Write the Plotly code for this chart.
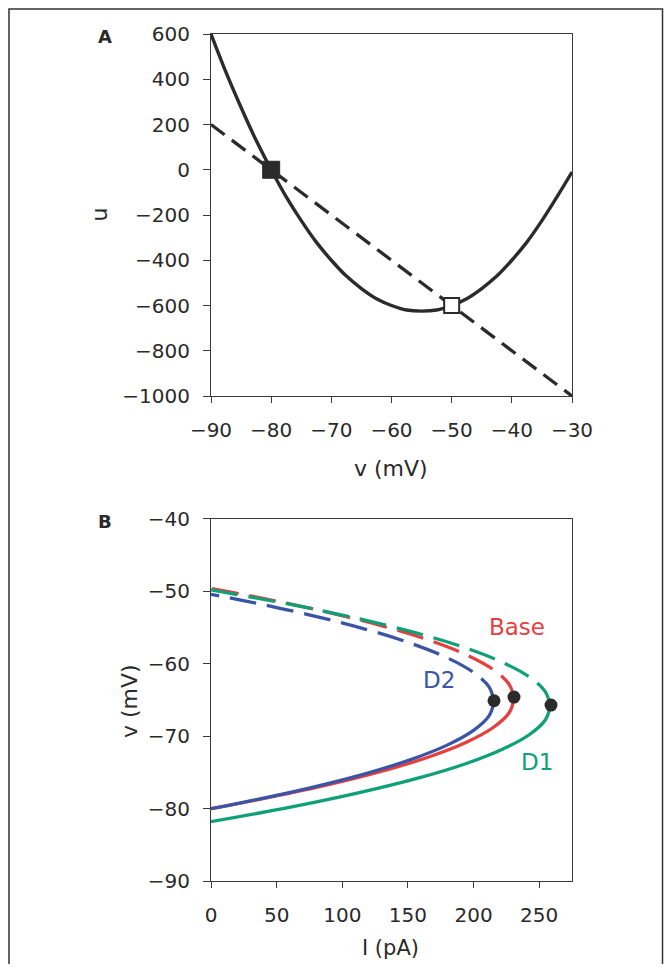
import plotly.graph_objects as go

# ---------------- Panel A data ----------------
v_null = [-90, -87.5, -85, -82.5, -80, -77.5, -75, -72.5, -70, -67.5, -65, -62.5, -60,
          -57.5, -55, -52.5, -50, -47.5, -45, -42.5, -40, -37.5, -35, -32.5, -30]
u_null = [600, 430, 275, 130, 0, -120, -225, -320, -400, -470, -525, -570, -600,
          -620, -625, -620, -600, -570, -525, -470, -400, -320, -225, -120, -10]
v_lin = [-90, -30]
u_lin = [200, -1000]
stable_pt = [-80, 0]
unstable_pt = [-50, -600]

# ---------------- Panel B data ----------------
base_v_stable = [-80.0, -78.8, -76.8, -74.8, -72.8, -70.8, -68.8, -66.8, -64.8]
base_I_stable = [0, 35, 87, 131, 167, 195, 215, 227, 231]
base_v_unst = [-64.8, -62.8, -60.8, -58.8, -56.8, -54.8, -52.8, -50.8, -49.6]
base_I_unst = [231, 227, 215, 195, 167, 131, 87, 35, 0]

d1_v_stable = [-81.8, -79.8, -77.8, -75.8, -73.8, -71.8, -69.8, -67.8, -65.8]
d1_I_stable = [0, 60.6, 113, 157.6, 194, 222, 242.4, 254.5, 258.6]
d1_v_unst = [-65.8, -63.8, -61.8, -59.8, -57.8, -55.8, -53.8, -51.8, -49.8]
d1_I_unst = [258.6, 254.5, 242.4, 222, 194, 157.6, 113, 60.6, 0]

d2_v_stable = [-80.0, -79.2, -77.2, -75.2, -73.2, -71.2, -69.2, -67.2, -65.2]
d2_I_stable = [0, 22.7, 73.9, 117.3, 152.7, 180.3, 200, 211.8, 215.7]
d2_v_unst = [-65.2, -63.2, -61.2, -59.2, -57.2, -55.2, -53.2, -51.2, -50.4]
d2_I_unst = [215.7, 211.8, 200, 180.3, 152.7, 117.3, 73.9, 22.7, 0]

sn_I = [215.6, 230.8, 259]
sn_v = [-65.1, -64.6, -65.7]

labels = ["Base", "D1", "D2"]
label_I = [232.9, 248.1, 173.7]
label_v = [-54.9, -73.5, -62.3]

RED = "#e5403f"
GREEN = "#0fa078"
BLUE = "#3a55a5"
DARK = "#2b2b2b"
AX = "#3a3a3a"
FONT = "DejaVu Sans, Verdana, sans-serif"
TXT = "#2a2a2a"

fig = go.Figure()

# Panel A
fig.add_trace(go.Scatter(x=v_lin, y=u_lin, mode="lines", xaxis="x", yaxis="y",
                         line=dict(color=DARK, width=3.3, dash="17px,9px"), showlegend=False))
fig.add_trace(go.Scatter(x=v_null, y=u_null, mode="lines", xaxis="x", yaxis="y",
                         line=dict(color=DARK, width=3.4, shape="spline"), showlegend=False))
fig.add_trace(go.Scatter(x=[stable_pt[0]], y=[stable_pt[1]], mode="markers", xaxis="x", yaxis="y",
                         marker=dict(symbol="square", size=17, color=DARK, line=dict(color=DARK, width=1)),
                         showlegend=False))
fig.add_trace(go.Scatter(x=[unstable_pt[0]], y=[unstable_pt[1]], mode="markers", xaxis="x", yaxis="y",
                         marker=dict(symbol="square", size=15, color="white", line=dict(color=DARK, width=2)),
                         showlegend=False))

# Panel B
for vs, Is, vu, Iu, col in [
    (base_v_stable, base_I_stable, base_v_unst, base_I_unst, RED),
    (d1_v_stable, d1_I_stable, d1_v_unst, d1_I_unst, GREEN),
    (d2_v_stable, d2_I_stable, d2_v_unst, d2_I_unst, BLUE),
]:
    fig.add_trace(go.Scatter(x=Is, y=vs, mode="lines", xaxis="x2", yaxis="y2",
                             line=dict(color=col, width=3.3, shape="spline"), showlegend=False))
    fig.add_trace(go.Scatter(x=Iu, y=vu, mode="lines", xaxis="x2", yaxis="y2",
                             line=dict(color=col, width=3.3, shape="spline", dash="27px,11px"),
                             showlegend=False))

fig.add_trace(go.Scatter(x=sn_I, y=sn_v, mode="markers", xaxis="x2", yaxis="y2",
                         marker=dict(size=13, color=DARK), showlegend=False))

axis_common = dict(showline=True, linecolor=AX, linewidth=1, mirror=True, ticks="outside",
                   tickcolor=AX, tickwidth=1, showgrid=False, zeroline=False,
                   tickfont=dict(family=FONT, size=20, color=TXT))

fig.update_layout(
    width=656, height=956,
    margin=dict(l=203, r=92, t=26, b=83),
    plot_bgcolor="white", paper_bgcolor="white",
    xaxis=dict(domain=[0, 1], anchor="y", range=[-90, -30], tickvals=[-90, -80, -70, -60, -50, -40, -30],
               ticklen=6, ticklabelstandoff=10, **axis_common),
    yaxis=dict(domain=[0.5726, 1], anchor="x", range=[-1000, 600],
               tickvals=[-1000, -800, -600, -400, -200, 0, 200, 400, 600],
               ticklen=7, ticklabelstandoff=9, **axis_common),
    xaxis2=dict(domain=[0, 1], anchor="y2", range=[0, 275], tickvals=[0, 50, 100, 150, 200, 250],
                ticklen=6, ticklabelstandoff=10, **axis_common),
    yaxis2=dict(domain=[0, 0.4274], anchor="x2", range=[-90, -40], tickvals=[-90, -80, -70, -60, -50, -40],
                ticklen=7, ticklabelstandoff=9, **axis_common),
)

ann = []
def A(text, x, y, size=19, bold=False, color=TXT, angle=0, xref="paper", yref="paper", yanchor="middle"):
    ann.append(dict(text=("<b>%s</b>" % text) if bold else text, x=x, y=y, xref=xref, yref=yref,
                    showarrow=False, textangle=angle, xanchor="center", yanchor=yanchor,
                    font=dict(family=FONT, size=size, color=color)))

A("v (mV)", 0.4986, 0.4876, size=22)
A("u", -0.3116, 0.7863, size=22, angle=-90)
A("I (pA)", 0.4986, -0.0955, size=21, yanchor="bottom")
A("v (mV)", -0.2271, 0.2125, size=22, angle=-90)
A("A", -0.295, 0.997, size=18, bold=True)
A("B", -0.295, 0.425, size=18, bold=True)
for t, xi, yi, c in zip(labels, label_I, label_v, [RED, GREEN, BLUE]):
    A(t, xi, yi, size=23, color=c, xref="x2", yref="y2")
fig.update_layout(annotations=ann)

fig.add_shape(type="rect", xref="paper", yref="paper", x0=-0.5596, x1=1.2507, y0=-0.15, y1=1.0295,
              line=dict(color="#333333", width=1.5), fillcolor="rgba(0,0,0,0)", layer="below")

fig.write_html("out.html")
